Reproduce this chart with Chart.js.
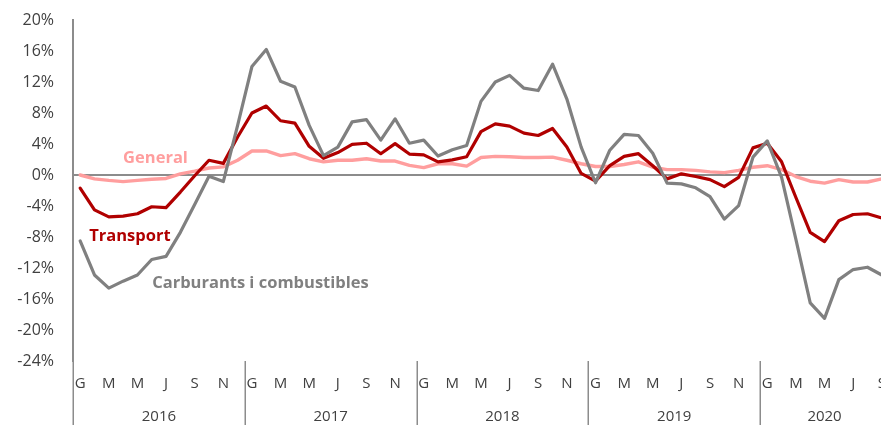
<!DOCTYPE html>
<html>
<head>
<meta charset="utf-8">
<script src="https://cdn.jsdelivr.net/npm/chart.js@4/dist/chart.umd.min.js"></script>
<style>
  html, body { margin: 0; padding: 0; overflow: hidden; background: #ffffff; }
  #wrap { width: 900px; height: 425px; }
</style>
</head>
<body>
<div id="wrap"><canvas id="c" width="900" height="425"></canvas></div>
<script>
// ---- Data (monthly year-on-year change, %) ----
const years = ['2016', '2017', '2018', '2019', '2020'];
const monthLetters = ['G', 'F', 'M', 'A', 'M', 'J', 'J', 'A', 'S', 'O', 'N', 'D'];
const categories = [];
years.forEach(function (yr) {
  monthLetters.forEach(function (m, i) { categories.push(yr + '-' + (i + 1)); });
});
categories.length = 57; // Jan 2016 .. Sep 2020

const general = [
  0.0, -0.5, -0.7, -0.85, -0.7, -0.55, -0.45, 0.15, 0.5, 0.9, 1.05, 1.9,
  3.1, 3.1, 2.5, 2.75, 2.1, 1.7, 1.9, 1.9, 2.1, 1.8, 1.8, 1.25,
  0.95, 1.45, 1.45, 1.15, 2.25, 2.4, 2.35, 2.25, 2.25, 2.3, 1.9, 1.45,
  1.1, 1.1, 1.35, 1.7, 1.0, 0.7, 0.7, 0.6, 0.4, 0.3, 0.6, 1.0,
  1.2, 0.7, -0.2, -0.8, -1.05, -0.6, -0.9, -0.9, -0.5
];
const transport = [
  -1.7, -4.5, -5.4, -5.3, -5.0, -4.1, -4.2, -2.2, -0.1, 1.9, 1.5, 4.9,
  8.0, 8.9, 7.0, 6.7, 3.7, 2.15, 2.9, 3.95, 4.1, 2.75, 4.05, 2.7,
  2.6, 1.7, 1.95, 2.35, 5.6, 6.6, 6.3, 5.4, 5.1, 6.0, 3.6, 0.2,
  -0.8, 1.2, 2.4, 2.75, 1.2, -0.5, 0.15, -0.2, -0.6, -1.5, -0.3, 3.5,
  4.1, 1.7, -2.9, -7.4, -8.6, -5.9, -5.1, -5.0, -5.55
];
const carburants = [
  -8.5, -12.9, -14.6, -13.7, -12.9, -10.9, -10.5, -7.4, -3.8, -0.15, -0.85, 6.4,
  14.0, 16.2, 12.1, 11.35, 6.4, 2.5, 3.6, 6.85, 7.15, 4.5, 7.25, 4.1,
  4.5, 2.45, 3.25, 3.8, 9.5, 12.0, 12.85, 11.2, 10.9, 14.3, 9.8, 3.6,
  -1.0, 3.2, 5.25, 5.1, 2.8, -1.05, -1.15, -1.65, -2.8, -5.7, -3.95, 2.3,
  4.4, -0.3, -8.3, -16.5, -18.5, -13.5, -12.2, -11.9, -12.9
];
const seriesNames = ['General', 'Transport', 'Carburants i combustibles'];
const yTicks = { min: -24, max: 20, step: 4 };

// ---- Styles ----
const COL_GENERAL = '#FF9E9E';
const COL_TRANSPORT = '#B00000';
const COL_CARB = '#808080';
const AXIS = '#8C8C8C';
const TEXT = '#404040';
const FONT = '"Open Sans", "Noto Sans", sans-serif';

const decor = {
  id: 'decor',
  afterDraw: function (chart) {
    const ctx = chart.ctx;
    const x = chart.scales.x, y = chart.scales.y;
    const area = chart.chartArea;
    const N = categories.length;
    ctx.save();
    // year groups: separators + labels
    ctx.strokeStyle = AXIS;
    ctx.lineWidth = 1.5;
    ctx.fillStyle = TEXT;
    ctx.font = '15px ' + FONT;
    ctx.textAlign = 'center';
    ctx.textBaseline = 'middle';
    years.forEach(function (yr, k) {
      const first = k * 12;
      if (first >= N) return;
      const last = Math.min(first + 11, N - 1);
      const left = first === 0 ? x.left : (x.getPixelForValue(first - 1) + x.getPixelForValue(first)) / 2;
      const right = last === N - 1 ? x.right : (x.getPixelForValue(last) + x.getPixelForValue(last + 1)) / 2;
      ctx.beginPath();
      ctx.moveTo(Math.round(left) + 0.25, area.bottom);
      ctx.lineTo(Math.round(left) + 0.25, chart.height);
      ctx.stroke();
      ctx.fillText(yr, (left + right) / 2, area.bottom + 56);
    });
    // series labels
    ctx.font = 'bold 16.5px ' + FONT;
    ctx.textAlign = 'left';
    ctx.fillStyle = COL_GENERAL;
    ctx.fillText(seriesNames[0], x.getPixelForValue(3), y.getPixelForValue(2.1));
    ctx.fillStyle = COL_TRANSPORT;
    ctx.fillText(seriesNames[1], x.getPixelForValue(0.63), y.getPixelForValue(-7.85));
    ctx.fillStyle = COL_CARB;
    ctx.fillText(seriesNames[2], x.getPixelForValue(5.03), y.getPixelForValue(-13.95));
    ctx.restore();
  }
};

function lineDs(label, data, color, width, order) {
  return {
    label: label, data: data, borderColor: color, backgroundColor: color,
    borderWidth: width, pointRadius: 0, tension: 0, fill: false,
    borderJoinStyle: 'round', borderCapStyle: 'round', order: order
  };
}

new Chart(document.getElementById('c'), {
  type: 'line',
  data: {
    labels: categories,
    datasets: [
      lineDs(seriesNames[2], carburants, COL_CARB, 3.2, 1),
      lineDs(seriesNames[1], transport, COL_TRANSPORT, 3.2, 2),
      lineDs(seriesNames[0], general, COL_GENERAL, 3.4, 3)
    ]
  },
  options: {
    responsive: false,
    animation: false,
    layout: { padding: { top: 20, right: 11, left: 0, bottom: 0 } },
    plugins: { legend: { display: false }, tooltip: { enabled: false }, title: { display: false } },
    scales: {
      x: {
        offset: true,
        grid: { display: false, drawTicks: false },
        border: { display: false },
        ticks: {
          autoSkip: false, maxRotation: 0, minRotation: 0, padding: 14,
          color: TEXT, font: { family: FONT, size: 15 },
          callback: function (v, i) { return i % 2 === 0 ? monthLetters[i % 12] : ''; }
        },
        afterFit: function (s) { s.height = 64; }
      },
      y: {
        min: yTicks.min, max: yTicks.max,
        grid: {
          drawTicks: false, lineWidth: 2,
          color: function (c) { return c.tick && c.tick.value === 0 ? AXIS : 'rgba(0,0,0,0)'; }
        },
        border: { display: true, color: AXIS, width: 2 },
        ticks: {
          stepSize: yTicks.step, padding: 19, color: TEXT,
          font: { family: FONT, size: 16 },
          callback: function (v) { return v + '%'; }
        },
        afterFit: function (s) { s.width = 73; s.paddingTop = 0; s.paddingBottom = 0; }
      }
    }
  },
  plugins: [decor]
});
</script>
</body>
</html>
